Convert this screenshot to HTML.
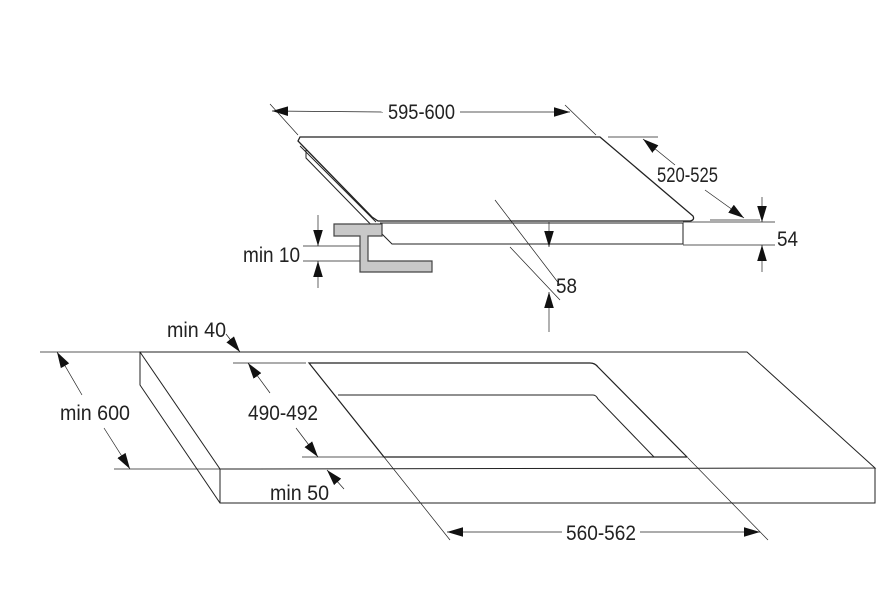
<!DOCTYPE html>
<html><head><meta charset="utf-8"><style>
html,body{margin:0;padding:0;background:#fff;}
svg{display:block;}
text{font-family:"Liberation Sans Narrow","Liberation Sans",sans-serif;font-size:21px;fill:#222;}
</style></head><body>
<svg width="883" height="604" viewBox="0 0 883 604" xmlns="http://www.w3.org/2000/svg">
<defs>
<marker id="a" viewBox="0 0 10 10" refX="10" refY="5" markerWidth="16" markerHeight="16" markerUnits="userSpaceOnUse" orient="auto-start-reverse"><path d="M0,2 L10,5 L0,8 z" fill="#111"/></marker>
</defs>
<g fill="none" stroke="#222" stroke-width="1">
<path d="M300,137 L600,137 L693,216 Q695,220 690,221 L378,221 L372,217 L298,141 Z" stroke-width="1.3"/>
<path d="M300,146 L376,222" />
<path d="M306,150 L306,158 L382,236"/>
<path d="M380,223 L683,223 L683,244 L392,244 L380,232"/>
<line x1="270" y1="104" x2="298" y2="135" stroke-width="0.7"/>
<line x1="565" y1="105" x2="596" y2="135" stroke-width="0.7"/>
<line x1="272" y1="111" x2="383" y2="112" stroke-width="0.7" marker-start="url(#a)"/>
<line x1="460" y1="112" x2="570" y2="112" stroke-width="0.7" marker-end="url(#a)"/>
<line x1="608" y1="137" x2="658" y2="137" stroke-width="0.7"/>
<line x1="643" y1="139" x2="675" y2="165" stroke-width="0.7" marker-start="url(#a)"/>
<line x1="705" y1="190" x2="744" y2="218" stroke-width="0.7" marker-end="url(#a)"/>
<line x1="710" y1="220" x2="760" y2="220" stroke-width="0.7"/>
<line x1="683" y1="222" x2="775" y2="222" stroke-width="0.7"/>
<line x1="683" y1="245" x2="775" y2="245" stroke-width="0.7"/>
<line x1="762" y1="197" x2="762" y2="222" stroke-width="0.7" marker-end="url(#a)"/>
<line x1="762" y1="272" x2="762" y2="245" stroke-width="0.7" marker-end="url(#a)"/>
<line x1="495" y1="200" x2="560" y2="285" stroke-width="0.7"/>
<line x1="510" y1="247" x2="560" y2="300" stroke-width="0.7"/>
<line x1="549" y1="222" x2="549" y2="247" stroke-width="0.7" marker-end="url(#a)"/>
<line x1="549" y1="332" x2="549" y2="292" stroke-width="0.7" marker-end="url(#a)"/>
<line x1="303" y1="246" x2="360" y2="246" stroke-width="0.7"/>
<line x1="303" y1="261" x2="360" y2="261" stroke-width="0.7"/>
<line x1="318" y1="215" x2="318" y2="246" stroke-width="0.7" marker-end="url(#a)"/>
<line x1="318" y1="288" x2="318" y2="261" stroke-width="0.7" marker-end="url(#a)"/>
</g>
<path d="M334,224 L382,224 L382,236 L368,236 L368,261 L432,261 L432,272 L360,272 L360,236 L334,236 Z" fill="#c8c8c8" stroke="#444" stroke-width="1.2"/>
<g fill="none" stroke="#222" stroke-width="1">
<path d="M140,352 L747,352 L875,468 L220,469 Z"/>
<path d="M140,352 L140,385 L220,503 L875,503 L875,468"/>
<line x1="220" y1="469" x2="220" y2="503"/>
<path d="M309,363 L590,363 Q595,363 598,367 L687,457 L384,457 Z" stroke-width="1.2"/>
<path d="M338,395 L593,395 Q596,395 598,399 L654,457"/>
<line x1="40" y1="352" x2="140" y2="352" stroke-width="0.7"/>
<line x1="114" y1="469" x2="220" y2="469" stroke-width="0.7"/>
<line x1="82" y1="395" x2="57" y2="352" stroke-width="0.7" marker-end="url(#a)"/>
<line x1="104" y1="428" x2="130" y2="469" stroke-width="0.7" marker-end="url(#a)"/>
<line x1="226" y1="334" x2="240" y2="352" stroke-width="0.7" marker-end="url(#a)"/>
<line x1="233" y1="363" x2="306" y2="363" stroke-width="0.7"/>
<line x1="302" y1="457" x2="384" y2="457" stroke-width="0.7"/>
<line x1="270" y1="393" x2="248" y2="363" stroke-width="0.7" marker-end="url(#a)"/>
<line x1="296" y1="428" x2="318" y2="457" stroke-width="0.7" marker-end="url(#a)"/>
<line x1="344" y1="489" x2="327" y2="470" stroke-width="0.7" marker-end="url(#a)"/>
<line x1="384" y1="457" x2="450" y2="540" stroke-width="0.7"/>
<line x1="688" y1="458" x2="768" y2="540" stroke-width="0.7"/>
<line x1="562" y1="532" x2="447" y2="532" stroke-width="0.7" marker-end="url(#a)"/>
<line x1="640" y1="532" x2="760" y2="532" stroke-width="0.7" marker-end="url(#a)"/>
</g>
<text x="388" y="119" textLength="67" lengthAdjust="spacingAndGlyphs">595-600</text>
<text x="657" y="182" textLength="61" lengthAdjust="spacingAndGlyphs">520-525</text>
<text x="777" y="246" textLength="21" lengthAdjust="spacingAndGlyphs">54</text>
<text x="556" y="293" textLength="21" lengthAdjust="spacingAndGlyphs">58</text>
<text x="243" y="262" textLength="57" lengthAdjust="spacingAndGlyphs">min 10</text>
<text x="167" y="337" textLength="59" lengthAdjust="spacingAndGlyphs">min 40</text>
<text x="60" y="420" textLength="70" lengthAdjust="spacingAndGlyphs">min 600</text>
<text x="248" y="420" textLength="70" lengthAdjust="spacingAndGlyphs">490-492</text>
<text x="270" y="500" textLength="59" lengthAdjust="spacingAndGlyphs">min 50</text>
<text x="566" y="540" textLength="70" lengthAdjust="spacingAndGlyphs">560-562</text>
</svg>
</body></html>
